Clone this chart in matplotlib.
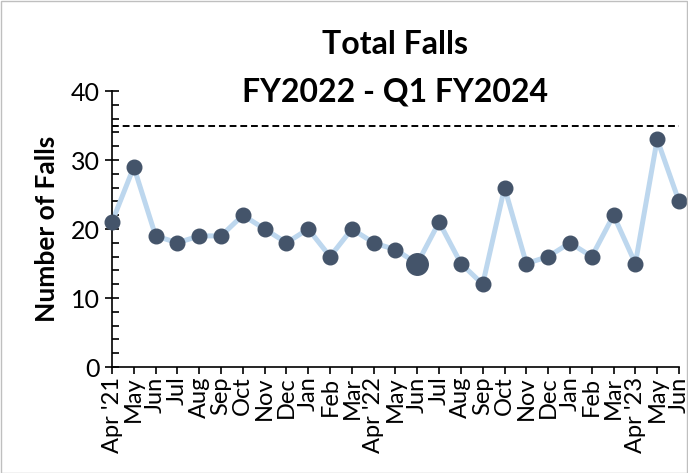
import matplotlib
matplotlib.use("Agg")
from matplotlib import pyplot as plt
from matplotlib.ticker import MultipleLocator

plt.rcParams['font.family'] = ['Lato', 'DejaVu Sans']

months = ["Apr '21", 'May', 'Jun', 'Jul', 'Aug', 'Sep', 'Oct', 'Nov', 'Dec', 'Jan', 'Feb', 'Mar',
          "Apr '22", 'May', 'Jun', 'Jul', 'Aug', 'Sep', 'Oct', 'Nov', 'Dec', 'Jan', 'Feb', 'Mar',
          "Apr '23", 'May', 'Jun']
falls = [21, 29, 19, 18, 19, 19, 22, 20, 18, 20, 16, 20,
         18, 17, 15, 21, 15, 12, 26, 15, 16, 18, 16, 22,
         15, 33, 24]
target = 35
highlight = 14  # Jun '22, drawn bigger

fig = plt.figure(figsize=(6.88, 4.73), dpi=100)
ax = fig.add_axes([0.1628, 0.2241, 0.8241, 0.5835])

x = list(range(len(falls)))
ax.plot(x, falls, color='#BDD7EE', lw=3.6, zorder=2, clip_on=False)
ax.plot(x, falls, 'o', color='#44546A', ms=10.5, zorder=3, clip_on=False)
ax.plot(x[highlight], falls[highlight], 'o', color='#44546A', ms=15.5, zorder=4, clip_on=False)
ax.axhline(target, color='black', ls='--', lw=1.4, dashes=(3.5, 2))

ax.set_xlim(0, len(falls) - 1)
ax.set_ylim(0, 40)
ax.set_xticks(x)
ax.set_xticklabels(months, rotation=90, fontsize=17)
ax.yaxis.set_major_locator(MultipleLocator(10))
ax.yaxis.set_minor_locator(MultipleLocator(2))
ax.tick_params(axis='y', which='major', direction='inout', length=10, width=1.2, labelsize=18, pad=4)
ax.tick_params(axis='y', which='minor', direction='in', length=5, width=1.2)
ax.tick_params(axis='x', direction='out', length=5, width=1.2, pad=2)

for s in ['top', 'right']:
    ax.spines[s].set_visible(False)
for s in ['left', 'bottom']:
    ax.spines[s].set_linewidth(1.2)

ax.set_ylabel('Number of Falls', fontsize=19, fontweight='bold', labelpad=8)
fig.text(0.574, 0.905, 'Total Falls', ha='center', va='center', fontsize=23, fontweight='bold')
fig.text(0.574, 0.805, 'FY2022 - Q1 FY2024', ha='center', va='center', fontsize=23, fontweight='bold')

fig.patches.append(plt.Rectangle((0.001, 0.001), 0.997, 0.997, transform=fig.transFigure,
                                 fill=False, edgecolor='#BFBFBF', lw=1))

fig.savefig('out.png', dpi=100)
